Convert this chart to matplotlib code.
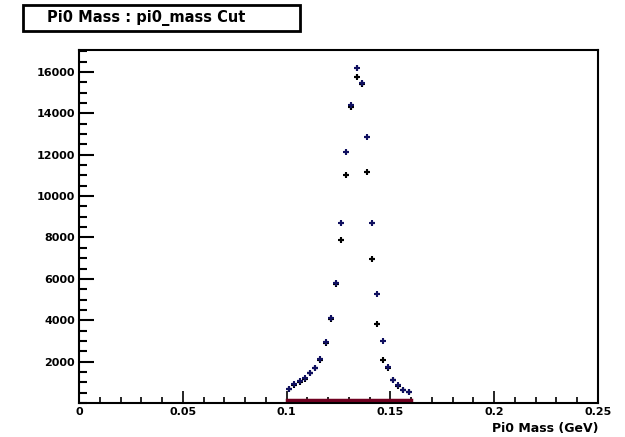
import matplotlib
matplotlib.use("Agg")
import matplotlib.pyplot as plt
import numpy as np
from matplotlib.ticker import MultipleLocator
from matplotlib.patches import Rectangle

# binning of the pi0 mass histograms (GeV)
bin_lo = 0.100
bin_w = 0.0025
n_bins = 24

# counts, two overlaid histograms
counts_a = [700, 900, 1050, 1200, 1470, 1710, 2140, 2960, 4120, 5810, 8710, 12140,
            14400, 16190, 15470, 12860, 8710, 5280, 3010, 1760, 1130, 850, 650, 550]
counts_b = [680, 870, 1020, 1180, 1440, 1680, 2100, 2900, 4050, 5770, 7890, 11030,
            14300, 15760, 15400, 11170, 6970, 3830, 2100, 1700, 1100, 830, 630, 540]
# small background histogram at the bottom
counts_bg = [150] * n_bins

title = "Pi0 Mass : pi0_mass Cut"
x_title = "Pi0 Mass (GeV)"
x_ticks = [0, 0.05, 0.1, 0.15, 0.2, 0.25]
x_labels = ["0", "0.05", "0.1", "0.15", "0.2", "0.25"]
y_ticks = [2000, 4000, 6000, 8000, 10000, 12000, 14000, 16000]

edges = bin_lo + bin_w * np.arange(n_bins + 1)
centers = edges[:-1] + bin_w / 2

fig = plt.figure(figsize=(6.25, 4.37), dpi=100)
ax = fig.add_axes([0.1264, 0.0778, 0.8304, 0.8078])

ax.axhline(0, color="#ff3030", lw=1.2, zorder=1)
ax.stairs(counts_bg, edges, color="#700020", lw=2.5, zorder=2)

ax.errorbar(centers, counts_b, xerr=bin_w / 2, yerr=np.sqrt(counts_b),
            fmt="+", color="black", ms=4, mew=1.5, elinewidth=1.5, zorder=3)
ax.errorbar(centers, counts_a, xerr=bin_w / 2, yerr=np.sqrt(counts_a),
            fmt="+", color="#101060", ms=4, mew=1.5, elinewidth=1.5, zorder=4)

ax.set_xlim(0, 0.25)
ax.set_ylim(0, 17060)
ax.set_xticks(x_ticks)
ax.set_xticklabels(x_labels, fontsize=8, fontweight="bold")
ax.set_yticks(y_ticks)
ax.set_yticklabels([str(v) for v in y_ticks], fontsize=8, fontweight="bold")
ax.xaxis.set_minor_locator(MultipleLocator(0.01))
ax.yaxis.set_minor_locator(MultipleLocator(500))
ax.tick_params(axis="x", which="major", direction="in", length=9, width=1.2, pad=3)
ax.tick_params(axis="x", which="minor", direction="in", length=4, width=1.2)
ax.tick_params(axis="y", which="major", direction="in", length=11, width=1.5, pad=3)
ax.tick_params(axis="y", which="minor", direction="in", length=6, width=1.5)
for s in ax.spines.values():
    s.set_linewidth(1.5)

ax.set_xlabel(x_title, fontsize=9, fontweight="bold")
ax.xaxis.set_label_coords(1.0, -0.055)
ax.xaxis.label.set_horizontalalignment("right")

# title box, ROOT style
fig.patches.append(Rectangle((0.037, 0.929), 0.443, 0.059, transform=fig.transFigure,
                             fc="white", ec="black", lw=2))
fig.text(0.075, 0.958, title, fontsize=10.5, fontweight="bold", va="center", ha="left")

fig.savefig("out.png", dpi=100)
